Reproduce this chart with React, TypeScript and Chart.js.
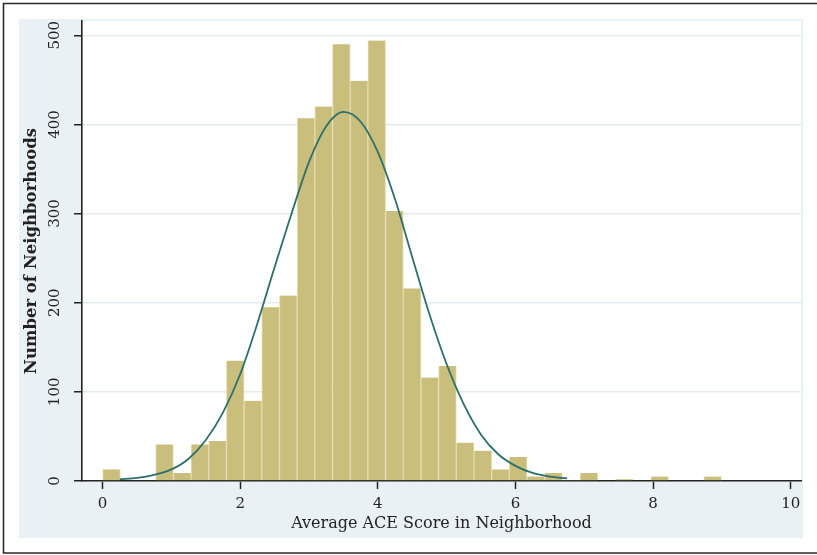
import React, { useEffect, useRef } from 'react';
import { Chart, registerables } from 'chart.js';

Chart.register(...registerables);

// Histogram bins: average ACE score, bin start and width
const BIN_START = 0;
const BIN_WIDTH = 0.257;
const binCounts = [
  13, 0, 0, 41, 9, 41, 45, 135, 90, 195, 208, 407, 420, 490, 449, 494, 303, 216,
  116, 129, 43, 34, 13, 27, 5, 9, 1, 9, 0, 2, 0, 5, 0, 0, 5,
];

// Normal density overlay
const curveX = [
  0.25, 0.5, 0.75, 1.0, 1.25, 1.5, 1.75, 2.0, 2.25, 2.5, 2.75, 3.0, 3.25, 3.5,
  3.75, 4.0, 4.25, 4.5, 4.75, 5.0, 5.25, 5.5, 5.75, 6.0, 6.25, 6.5, 6.75,
];
const curveY = [
  2, 3.5, 7, 13, 25, 46, 77, 120, 177, 240, 301, 358, 398, 414, 403, 369, 316,
  251, 187, 131, 86, 52, 30, 17, 9, 5, 3,
];

const xTicks = [0, 2, 4, 6, 8, 10];
const yTicks = [0, 100, 200, 300, 400, 500];

const X_TITLE = 'Average ACE Score in Neighborhood';
const Y_TITLE = 'Number of Neighborhoods';

const W = 817;
const H = 555;

const bgPlugin = {
  id: 'stataBg',
  beforeDraw(chart: any) {
    const { ctx, chartArea } = chart;
    ctx.save();
    ctx.fillStyle = '#ffffff';
    ctx.fillRect(0, 0, W, H);
    // outer graph region (light blue-gray)
    ctx.fillStyle = '#eaf1f4';
    ctx.fillRect(19, 19, 784, 519);
    // plot region
    ctx.fillStyle = '#ffffff';
    ctx.fillRect(chartArea.left, chartArea.top, chartArea.right - chartArea.left, chartArea.bottom - chartArea.top);
    // frame
    ctx.strokeStyle = '#2a2a2a';
    ctx.lineWidth = 1.6;
    ctx.beginPath();
    ctx.moveTo(W + 5, 3.5);
    ctx.lineTo(3.5, 3.5);
    ctx.lineTo(3.5, 553);
    ctx.lineTo(W + 5, 553);
    ctx.stroke();
    ctx.restore();
  },
};

export default function App() {
  const ref = useRef<HTMLCanvasElement | null>(null);

  useEffect(() => {
    document.body.style.margin = '0';
    const canvas = ref.current;
    if (!canvas) return;

    const barData = binCounts.map((c, i) => ({ x: BIN_START + (i + 0.5) * BIN_WIDTH, y: c }));
    const lineData = curveX.map((x, i) => ({ x, y: curveY[i] }));

    const chart = new Chart(canvas, {
      type: 'bar',
      data: {
        datasets: [
          {
            type: 'line',
            data: lineData,
            borderColor: '#2d6f6b',
            borderWidth: 1.8,
            pointRadius: 0,
            cubicInterpolationMode: 'monotone',
            fill: false,
            order: 0,
          } as any,
          {
            type: 'bar',
            data: barData,
            backgroundColor: '#c9be7b',
            borderColor: '#e4ddb0',
            borderWidth: { left: 1, right: 1, top: 0, bottom: 0 },
            borderSkipped: false,
            barPercentage: 1,
            categoryPercentage: 1,
            order: 1,
          } as any,
        ],
      },
      options: {
        responsive: false,
        animation: false,
        events: [],
        layout: { padding: { left: 19, top: 21, right: 16, bottom: 17 } },
        plugins: {
          legend: { display: false },
          tooltip: { enabled: false },
        },
        scales: {
          x: {
            type: 'linear',
            min: -0.3,
            max: 10.15,
            offset: false,
            afterFit: (s: any) => {
              s.height = 57;
            },
            afterBuildTicks: (s: any) => {
              s.ticks = xTicks.map((v) => ({ value: v }));
            },
            grid: {
              offset: false,
              drawOnChartArea: false,
              drawTicks: true,
              tickLength: 8,
              tickColor: '#222',
              tickWidth: 1.5,
            },
            border: { color: '#222', width: 1.6 },
            ticks: {
              color: '#222',
              font: { family: 'DejaVu Serif', size: 15 },
              padding: 6,
              maxRotation: 0,
              minRotation: 0,
              autoSkip: false,
            },
            title: {
              display: true,
              text: X_TITLE,
              color: '#222',
              font: { family: 'DejaVu Serif', size: 16 },
              padding: { top: 0, bottom: 5 },
            },
          },
          y: {
            type: 'linear',
            min: 0,
            max: 516,
            afterFit: (s: any) => {
              s.width = 63;
            },
            afterBuildTicks: (s: any) => {
              s.ticks = yTicks.map((v) => ({ value: v }));
            },
            grid: {
              color: '#e3ebef',
              lineWidth: 1.5,
              drawTicks: true,
              tickLength: 8,
              tickColor: '#222',
              tickWidth: 1.5,
            },
            border: { color: '#222', width: 1.6 },
            ticks: {
              color: '#222',
              font: { family: 'DejaVu Serif', size: 15 },
              padding: 5,
              minRotation: 90,
              maxRotation: 90,
              crossAlign: 'center',
              autoSkip: false,
            },
            title: {
              display: true,
              text: Y_TITLE,
              color: '#222',
              font: { family: 'DejaVu Serif', size: 16.5, weight: 'bold' },
              padding: { top: 3, bottom: 0 },
            },
          },
        },
      },
      plugins: [bgPlugin],
    } as any);

    return () => chart.destroy();
  }, []);

  return (
    <div style={{ position: 'absolute', left: 0, top: 0, width: W, height: H }}>
      <canvas ref={ref} width={W} height={H} style={{ width: W, height: H, display: 'block' }} />
    </div>
  );
}
